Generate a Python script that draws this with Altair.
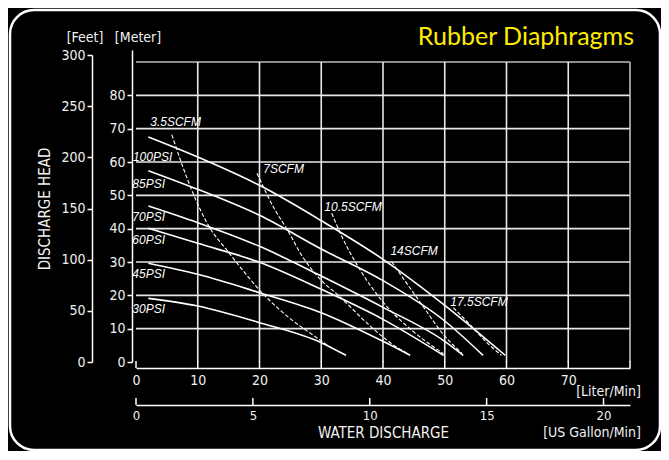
import altair as alt
import pandas as pd

# ---------------- data ----------------
# pressure curves: flow [Liter/Min] and discharge head [Meter]
psi_names = ["100PSI", "85PSI", "70PSI", "60PSI", "45PSI", "30PSI"]
flow_100psi = [2, 10, 20, 30, 40, 50, 59.8]
head_100psi = [67.5, 61.5, 53.0, 42.4, 30.8, 17.0, 2.0]
flow_85psi = [2, 10, 20, 30, 40, 50, 56.2]
head_85psi = [57.4, 51.8, 44.0, 33.9, 24.4, 12.3, 2.0]
flow_70psi = [2, 10, 20, 30, 40, 50, 53.0]
head_70psi = [46.8, 41.8, 34.7, 25.8, 16.4, 6.2, 2.0]
flow_60psi = [2, 10, 20, 30, 40, 49.8]
head_60psi = [40.1, 35.6, 29.9, 21.8, 12.8, 2.0]
flow_45psi = [2, 10, 20, 30, 40, 44.4]
head_45psi = [29.6, 26.3, 20.8, 14.8, 6.2, 2.0]
flow_30psi = [2, 10, 20, 30, 34.0]
head_30psi = [19.1, 16.8, 11.8, 5.8, 2.0]

# air consumption curves (dashed)
scfm_names = ["3.5SCFM", "7SCFM", "10.5SCFM", "14SCFM", "17.5SCFM"]
flow_3_5scfm = [5.8, 8.8, 12.0, 14.7, 17.7, 20.0, 23.3, 29.8, 31.8]
head_3_5scfm = [68.2, 52.6, 40.1, 33.6, 26.6, 21.6, 15.6, 6.6, 4.0]
flow_7scfm = [19.6, 22.4, 24.4, 27.0, 30.0, 32.7, 37.8, 40.0, 42.6, 44.0]
head_7scfm = [56.6, 46.0, 40.0, 31.5, 24.5, 20.1, 11.0, 7.5, 4.0, 2.5]
flow_10_5scfm = [31.7, 33.5, 36.0, 40.0, 45.0, 49.8]
head_10_5scfm = [44.6, 37.0, 28.5, 18.0, 9.0, 2.5]
flow_14scfm = [41.4, 44.0, 46.6, 49.8, 52.8]
head_14scfm = [30.1, 23.2, 16.4, 8.2, 2.6]
flow_17_5scfm = [51.4, 54.4, 57.0, 59.2]
head_17_5scfm = [16.3, 10.6, 5.5, 2.0]

# curve labels
label_text = ["3.5SCFM", "100PSI", "85PSI", "70PSI", "60PSI", "45PSI", "30PSI",
              "7SCFM", "10.5SCFM", "14SCFM", "17.5SCFM"]
label_flow = [2.3, -0.5, -0.6, -0.6, -0.6, -0.6, -0.6, 20.6, 30.5, 41.2, 50.9]
label_head = [72.1, 61.5, 53.5, 43.5, 36.6, 26.4, 15.9, 58.0, 46.5, 33.3, 18.0]

# axes
liter_ticks = [0, 10, 20, 30, 40, 50, 60, 70, 80]
liter_labels = [0, 10, 20, 30, 40, 50, 60, 70]
gallon_ticks = [0, 5, 10, 15, 20]
meter_labels = [0, 10, 20, 30, 40, 50, 60, 70, 80]
feet_labels = [0, 50, 100, 150, 200, 250, 300]
grid_meters = [10, 20, 30, 40, 50, 60, 70, 80, 90]
grid_liters = [10, 20, 30, 40, 50, 60, 70, 80]

# ---------------- tables ----------------
psi_series = [flow_100psi, flow_85psi, flow_70psi, flow_60psi, flow_45psi, flow_30psi]
psi_heads = [head_100psi, head_85psi, head_70psi, head_60psi, head_45psi, head_30psi]
scfm_series = [flow_3_5scfm, flow_7scfm, flow_10_5scfm, flow_14scfm, flow_17_5scfm]
scfm_heads = [head_3_5scfm, head_7scfm, head_10_5scfm, head_14scfm, head_17_5scfm]


def long_table(names, flows, heads):
    rows = []
    for n, fl, hd in zip(names, flows, heads):
        for i, (f, h) in enumerate(zip(fl, hd)):
            rows.append({"curve": n, "flow": f, "head": h, "i": i})
    return pd.DataFrame(rows)


psi_df = long_table(psi_names, psi_series, psi_heads)
scfm_df = long_table(scfm_names, scfm_series, scfm_heads)
labels_df = pd.DataFrame({"t": label_text, "flow": label_flow, "head": label_head})
hgrid_df = pd.DataFrame({"m": grid_meters, "x0": 0, "x1": 80,
                         "c": ["#bdbdbd" if v == 90 else "#e8e8e8" for v in grid_meters]})
vgrid_df = pd.DataFrame({"l": grid_liters, "y0": 0, "y1": 90,
                         "c": ["#bdbdbd" if v == 80 else "#e8e8e8" for v in grid_liters]})
lt_df = pd.DataFrame({"l": liter_ticks})
gt_df = pd.DataFrame({"g": gallon_ticks})
ft_df = pd.DataFrame({"ft": feet_labels})

W, H = 494, 312
FONT = "DejaVu Sans Condensed, DejaVu Sans"


def xs():
    return alt.Scale(domain=[0, 80], nice=False)


def ys():
    return alt.Scale(domain=[0, 93.6], nice=False)


axis_style = dict(domainColor="white", domainWidth=1.5, tickColor="white", tickWidth=1.5,
                  labelColor="#f2f2f2", labelFont=FONT, grid=False,
                  titleColor="#f2f2f2", titleFont=FONT, titleFontWeight="normal",
                  titleFontSize=15)

liter_axis = alt.Axis(orient="bottom", offset=6, values=liter_labels, ticks=False, tickSize=0,
                      labelPadding=5, title=None, labelFlush=False, labelFontSize=14,
                      **axis_style)
meter_axis = alt.Axis(orient="left", offset=4, values=meter_labels, tickSize=5,
                      labelPadding=2, title=None, labelFlush=False, labelFontSize=14,
                      **axis_style)

frame = alt.Chart(pd.DataFrame({"a": [0]})).mark_rect(
    cornerRadius=24, fillOpacity=0, stroke="white", strokeWidth=2.5
).encode(x=alt.value(-126), x2=alt.value(524), y=alt.value(-40), y2=alt.value(400))

hgrid = alt.Chart(hgrid_df).mark_rule(strokeWidth=1.6).encode(
    y=alt.Y("m:Q", scale=ys(), axis=meter_axis),
    x=alt.X("x0:Q", scale=xs(), axis=liter_axis),
    x2="x1:Q",
    color=alt.Color("c:N", scale=None),
)
vgrid = alt.Chart(vgrid_df).mark_rule(strokeWidth=1.6).encode(
    x=alt.X("l:Q", scale=xs(), axis=None),
    y=alt.Y("y0:Q", scale=ys(), axis=None),
    y2="y1:Q",
    color=alt.Color("c:N", scale=None),
)
psi_lines = alt.Chart(psi_df).mark_line(color="white", strokeWidth=1.6, interpolate="monotone").encode(
    x=alt.X("flow:Q", scale=xs(), axis=None),
    y=alt.Y("head:Q", scale=ys(), axis=None),
    detail="curve:N", order="i:Q",
)
scfm_lines = alt.Chart(scfm_df).mark_line(color="white", strokeWidth=1.1, strokeDash=[4, 2],
                                          interpolate="monotone").encode(
    x=alt.X("flow:Q", scale=xs(), axis=None),
    y=alt.Y("head:Q", scale=ys(), axis=None),
    detail="curve:N", order="i:Q",
)
curve_labels = alt.Chart(labels_df).mark_text(
    align="left", baseline="middle", font="Liberation Sans", fontStyle="italic",
    fontSize=12, color="white"
).encode(
    x=alt.X("flow:Q", scale=xs(), axis=None),
    y=alt.Y("head:Q", scale=ys(), axis=None),
    text="t:N",
)
lticks = alt.Chart(lt_df).mark_rule(color="white", strokeWidth=1.5).encode(
    x=alt.X("l:Q", scale=xs(), axis=None), y=alt.value(311), y2=alt.value(318)
)


def static_text(txt, x, y, align="center", size=14, color="#f2f2f2", font=FONT):
    return alt.Chart(pd.DataFrame({"t": [txt]})).mark_text(
        align=align, baseline="middle", fontSize=size, color=color, font=font
    ).encode(text="t:N", x=alt.value(x), y=alt.value(y))


texts = [
    static_text("Rubber Diaphragms", 498, -13, align="right", size=25, color="#ffec00", font="Lato"),
    static_text("[Feet]", -51, -12),
    static_text("[Meter]", 2, -12),
    static_text("[Liter/Min]", 505, 342, align="right"),
    static_text("[US Gallon/Min]", 505, 383, align="right"),
]

feet = alt.Chart(ft_df).mark_point(opacity=0).encode(
    y=alt.Y("ft:Q", scale=alt.Scale(domain=[0, 300], range=[312, 5], nice=False),
            axis=alt.Axis(orient="left", offset=44, values=feet_labels, tickSize=5,
                          labelPadding=2, title="DISCHARGE HEAD", titlePadding=8,
                          labelFlush=False, labelFontSize=14, **axis_style))
)

gallon = alt.Chart(gt_df).mark_rule(color="white", strokeWidth=1.5).encode(
    x=alt.X("g:Q", scale=alt.Scale(domain=[0, 80 / 3.78541], nice=False),
            axis=alt.Axis(orient="bottom", offset=43, values=gallon_ticks, ticks=False,
                          tickSize=0, labelPadding=4, labelFontSize=13,
                          title="WATER DISCHARGE", titlePadding=3, labelFlush=False,
                          **axis_style)),
    y=alt.value(348), y2=alt.value(355),
)

chart = alt.layer(
    frame, hgrid, vgrid, psi_lines, scfm_lines, curve_labels, lticks, *texts, feet, gallon
).resolve_scale(
    x="independent", y="independent"
).properties(
    width=W, height=H,
    padding={"left": 128, "top": 42, "right": 31, "bottom": 89},
    autosize=alt.AutoSizeParams(type="none"),
).configure(background="black").configure_view(stroke=None)

chart.save("out.html", embed_options={"renderer": "svg", "actions": False})
